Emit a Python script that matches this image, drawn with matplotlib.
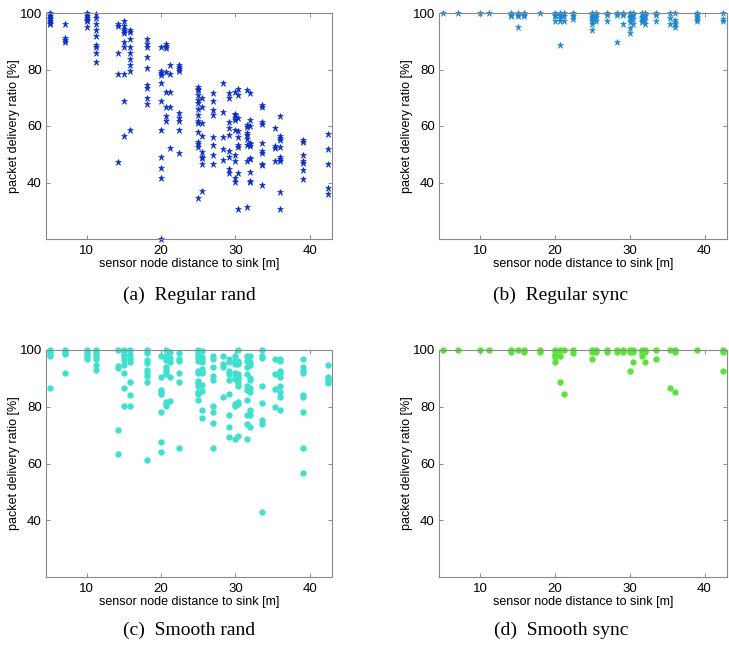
import numpy as np
import matplotlib.pyplot as plt

# node distances to the sink [m] (one column of points per node position)
dist = [5.0, 7.07, 10.0, 11.18, 14.14, 15.0, 15.81, 18.03, 20.0, 20.62, 21.21, 22.36,
        25.0, 25.5, 26.93, 28.28, 29.15, 30.0, 30.41, 31.62, 32.02, 33.54, 35.36, 36.06,
        39.05, 42.43]

# packet delivery ratio [%] per node position
regular_rand = [
    [100, 99.5, 99, 98.4, 97.8, 97.2, 96.5, 96],
    [96, 91, 90.3, 89.7],
    [100, 99.5, 99, 98.3, 97.6, 97, 95],
    [99.5, 98.3, 96.2, 94.0, 91.9, 88.8, 88.1, 85.7, 82.7],
    [96.2, 95.4, 85.7, 78.4, 47.1],
    [97.1, 95.3, 94.4, 93.5, 92.9, 89.9, 87.8, 78.4, 69.0, 56.6],
    [94.0, 93.4, 90.8, 87.8, 85.7, 83.6, 81.5, 79.5, 58.6],
    [90.8, 88.9, 88.0, 84.6, 80.4, 74.5, 73.6, 70.0, 67.9],
    [87.8, 79.4, 78.6, 77.9, 75.3, 69.0, 58.6, 49.2, 45.0, 41.7, 20.1],
    [89.0, 88.3, 87.6, 79.1, 72.0, 66.9, 63.7, 61.8],
    [81.5, 78.4, 72.0, 66.9, 52.2],
    [81.6, 80.9, 80.3, 79.5, 64.5, 62.9, 61.8, 58.6, 50.3],
    [73.9, 73.2, 72.6, 71.0, 69.1, 68.3, 65.9, 63.8, 61.6, 60.9, 57.7, 54.2, 53.5, 52.4, 34.4],
    [70.0, 66.8, 61.2, 56.5, 50.8, 49.1, 48.5, 46.6, 37.1],
    [71.8, 69.0, 65.8, 63.8, 56.0, 53.4, 49.6, 46.6],
    [75.2, 64.8, 56.0, 51.9, 48.1],
    [71.8, 70.0, 61.3, 59.2, 56.9, 51.3, 49.1, 44.9, 43.4],
    [72.0, 64.4, 63.8, 62.9, 62.3, 58.6, 49.7, 47.6, 41.7, 40.2],
    [73.2, 71.0, 62.9, 58.1, 56.0, 53.4, 52.6, 43.4, 30.6],
    [72.8, 60.2, 59.8, 57.5, 56.9, 55.5, 53.3, 47.6, 31.4],
    [71.8, 62.3, 60.0, 54.1, 53.5, 52.8, 48.7, 48.2, 43.8, 40.7, 40.3],
    [67.6, 66.9, 61.4, 60.8, 54.0, 51.0, 50.4, 46.6, 46.1, 39.1],
    [59.2, 52.9, 52.2, 47.6],
    [63.5, 56.3, 55.6, 55.1, 52.4, 49.1, 48.4, 47.7, 36.6, 30.6],
    [55.1, 54.3, 49.8, 47.6, 46.9, 44.4, 41.2],
    [57.0, 51.7, 46.6, 38.2, 35.9],
]

regular_sync = [
    [100], [100], [100], [100],
    [100, 99.4, 98.8],
    [100, 99.4, 98.8, 95.1],
    [100, 99.4, 98.8],
    [100],
    [100, 99.4, 98.8, 97.1],
    [100, 99.3, 98.2, 97.0, 88.7],
    [100, 98.8, 97.1],
    [100, 99.5, 98.8, 98.0],
    [100, 99.4, 98.7, 97.9, 97.1, 96.1, 94.1],
    [100, 99.4, 98.7, 97.3],
    [100, 99.4, 97.3],
    [100, 99.4, 89.8],
    [100, 99.4, 96.1],
    [100, 99.5, 98.7, 98.1, 96.8, 94.8, 92.9],
    [100, 99.4, 97.9, 96.1],
    [100, 99.5, 98.7, 98.1, 97.5, 96.8],
    [100, 99.4, 98.8, 97.6, 96.1],
    [100, 99.4, 97.3],
    [100, 98.1, 96.1],
    [100, 97.6, 96.8, 96.0, 95.0],
    [100, 99.4, 98.7, 98.0, 97.2],
    [100, 98.0, 97.3],
]

smooth_rand = [
    [100, 99.3, 98.6, 97.8, 86.5],
    [100, 99.3, 98.6, 91.8],
    [100, 99.3, 98.6, 97.8, 96.8],
    [100, 99.3, 98.6, 97.8, 96.8, 94.8, 92.8],
    [100, 94.5, 93.6, 71.7, 63.5],
    [100, 99.2, 98.2, 97.4, 96.6, 94.8, 91.8, 86.5, 80.2],
    [100, 98.1, 96.8, 95.9, 88.6, 84.3, 80.2],
    [100, 98.8, 96.5, 95.3, 92.8, 91.8, 90.8, 88.6, 61.4],
    [98.0, 90.6, 85.9, 85.2, 84.5, 78.2, 67.7, 64.2],
    [100, 98.0, 97.2, 96.6, 94.0, 93.1, 92.3, 91.6, 81.5, 80.8, 80.2],
    [99.2, 97.1, 95.6, 90.6, 82.2],
    [99.1, 96.8, 96.0, 91.8, 88.6, 65.6],
    [100, 99.1, 98.0, 97.1, 96.0, 92.7, 91.9, 89.2, 88.3, 87.4, 85.3, 84.5, 82.3],
    [99.8, 97.4, 96.5, 95.6, 93.3, 92.3, 91.8, 87.8, 85.4, 78.9, 76.2],
    [98.0, 96.8, 93.9, 90.7, 89.5, 80.2, 78.0, 74.1, 65.6],
    [98.0, 95.1, 94.1, 83.3],
    [96.8, 95.6, 92.5, 91.5, 89.5, 84.5, 77.1, 72.7, 69.4],
    [98.0, 96.2, 95.6, 95.1, 91.8, 90.3, 89.8, 80.9, 80.2, 68.6],
    [100, 96.2, 95.6, 95.1, 91.5, 90.6, 89.8, 88.2, 87.4, 81.5, 80.9, 69.7],
    [98.0, 96.0, 93.9, 91.5, 87.4, 85.9, 82.3, 77.0, 73.9, 68.8],
    [98.0, 95.6, 94.8, 90.3, 89.5, 86.5, 85.3, 78.8, 77.0, 72.7],
    [100, 98.0, 97.2, 87.4, 81.2, 75.3, 73.9, 43.0],
    [96.8, 91.5, 86.2, 80.0],
    [96.8, 96.0, 92.7, 91.8, 90.6, 87.4, 85.3, 83.3, 79.0],
    [96.8, 93.9, 92.9, 91.8, 84.2, 83.3, 78.0, 65.3, 56.8],
    [94.8, 90.6, 89.8, 88.9, 88.2],
]

smooth_sync = [
    [100], [100], [100], [100],
    [100, 99.2],
    [100],
    [100, 99.2],
    [100, 99.2],
    [100, 99.1, 98.2, 97.6, 95.9],
    [100, 98.0, 88.6],
    [100, 84.5],
    [100, 98.9],
    [100, 99.2, 96.9],
    [100, 99.2],
    [100, 99.2],
    [100, 99.2],
    [100, 99.2],
    [100, 99.2, 92.7],
    [100, 99.2, 95.9],
    [100, 99.5, 98.9, 98.0],
    [100, 99.2, 95.9],
    [100, 96.9],
    [100, 86.5],
    [100, 99.2, 85.3],
    [100],
    [100, 99.2, 92.7],
]

captions = ['(a)  Regular rand', '(b)  Regular sync', '(c)  Smooth rand', '(d)  Smooth sync']
colors = ['#0a2ec4', '#1a87cf', '#40e0d0', '#5ce23a']
markers = ['*', '*', 'o', 'o']
series = [regular_rand, regular_sync, smooth_rand, smooth_sync]

plt.rcParams['font.family'] = ['Liberation Sans', 'DejaVu Sans']

W, H = 729, 645
fig = plt.figure(figsize=(W / 100, H / 100), dpi=100)

# axes boxes in pixels: left, top, right, bottom
boxes = [(46, 13, 332, 239), (439, 13, 727, 239),
         (46, 350, 332, 577), (439, 350, 727, 577)]
cap_pos = [(189, 295), (561, 295), (189, 630), (561, 630)]

for k in range(4):
    l, t, r, b = boxes[k]
    ax = fig.add_axes([l / W, 1 - b / H, (r - l) / W, (b - t) / H])
    xs = []
    ys = []
    for d, col in zip(dist, series[k]):
        xs += [d] * len(col)
        ys += col
    if markers[k] == '*':
        ax.plot(xs, ys, ls='none', marker='*', ms=5.0, color=colors[k], mec=colors[k],
                mew=0.4, clip_on=False)
    else:
        ax.plot(xs, ys, ls='none', marker='o', ms=4.6, color=colors[k], mec='none',
                clip_on=False)
    ax.set_xlim(4.5, 43)
    ax.set_ylim(20, 100)
    ax.set_xticks([10, 20, 30, 40])
    ax.set_yticks([40, 60, 80, 100])
    ax.tick_params(direction='in', length=3, width=0.6, color='#777777',
                   labelsize=9.5, top=True, right=True)
    ax.tick_params(axis='x', pad=4)
    ax.tick_params(axis='y', pad=3)
    for s in ax.spines.values():
        s.set_color('#888888')
        s.set_linewidth(0.8)
    ax.set_xlabel('sensor node distance to sink [m]', fontsize=9, labelpad=1)
    ax.set_ylabel('packet delivery ratio [%]', fontsize=9, labelpad=0)
    cx, cy = cap_pos[k]
    fig.text(cx / W, 1 - cy / H, captions[k], ha='center', va='center',
             fontsize=14, family='Liberation Serif')

fig.savefig('out.png', dpi=100)
